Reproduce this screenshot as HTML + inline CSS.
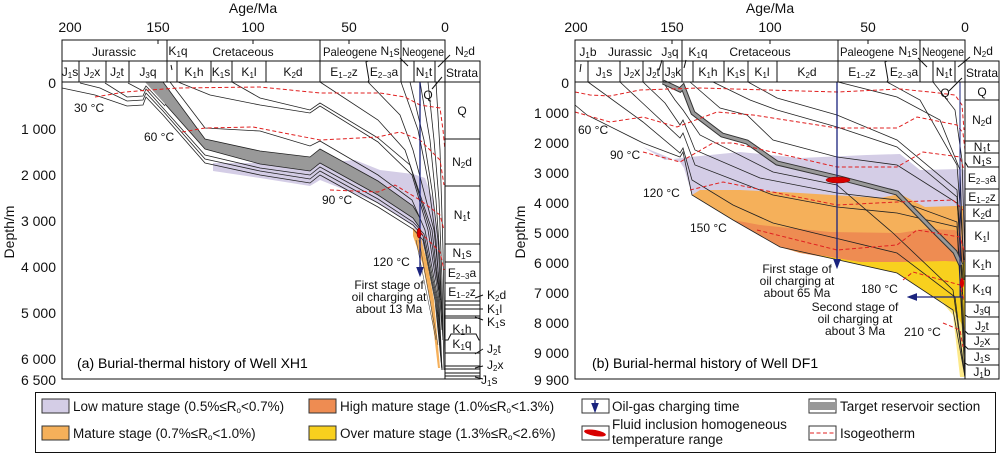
<!DOCTYPE html>
<html><head><meta charset="utf-8"><style>
body{margin:0;background:#fff}
svg{display:block;font-family:"Liberation Sans",Arial,sans-serif}
.t{font-size:12px;fill:#111}
.ax{font-size:14px;fill:#111}
.lg{font-size:13.5px;fill:#111}
.bl{fill:none;stroke:#222;stroke-width:0.8}
.iso{fill:none;stroke:#e02020;stroke-width:1;stroke-dasharray:4,2.5}
.box{fill:none;stroke:#111;stroke-width:1}
</style></head><body>
<svg width="1000" height="454" viewBox="0 0 1000 454" xmlns="http://www.w3.org/2000/svg">
<defs><marker id="ar" markerWidth="8" markerHeight="8" refX="4" refY="4" orient="auto"><path d="M0,1 L8,4 L0,7 Z" fill="#1a237e"/></marker></defs>

<!-- ============ LEFT PANEL ============ -->
<text class="ax" x="253" y="13" text-anchor="middle">Age/Ma</text>
<text class="ax" x="70" y="32" text-anchor="middle">200</text>
<text class="ax" x="158" y="32" text-anchor="middle">150</text>
<text class="ax" x="253" y="32" text-anchor="middle">100</text>
<text class="ax" x="349" y="32" text-anchor="middle">50</text>
<text class="ax" x="445" y="32" text-anchor="middle">0</text>
<text class="ax" x="0" y="0" transform="translate(14,232) rotate(-90)" text-anchor="middle">Depth/m</text>
<g class="ax" text-anchor="end">
<text x="56" y="88">0</text><text x="56" y="134">1 000</text><text x="56" y="180">2 000</text><text x="56" y="226">3 000</text><text x="56" y="272">4 000</text><text x="56" y="318">5 000</text><text x="56" y="364">6 000</text><text x="56" y="385">6 500</text>
</g>

<!-- fills -->
<polygon fill="#d4cde6" points="213,163 260,163 310,170 320,163 355,160 380,170 413,174 425,178 433,200 438,240 441,300 430,262 420,240 413,226 378,203 320,180 310,186 260,178 213,171"/>
<polygon fill="#f5b05a" points="413,228 420,234 427,262 434,300 440,368 438,368 430,300 422,262 413,236"/>
<g stroke="#333" stroke-width="0.5"><line x1="416" y1="240" x2="436" y2="340"/><line x1="419" y1="240" x2="438" y2="345"/></g>
<polygon fill="#999" points="145,82 163,82 205,139 260,151 310,157 320,149 378,181 413,206 420,218 420,228 413,218 378,195 320,163 310,171 260,164 205,149 165,104"/>
<polyline class="bl" points="163,82 205,139 260,151 310,157 320,149 378,181 413,206 420,218"/>
<polyline class="bl" points="165,104 205,149 260,164 310,171 320,163 378,195 413,218 420,228"/>
<polyline class="bl" points="62,88 95,95 127,106 143,105 146,97 163,115 205,163 260,175 310,183 320,175 378,207 413,229 423,240 435,300 442,370"/>
<polyline class="bl" points="80,83 100,88 127,101 143,100 146,93 163,111 205,159 260,171 310,179 320,171 378,203 413,225 423,236 436,300 442,370"/>
<polyline class="bl" points="105,83 127,97 143,96 146,89 163,108 205,155 260,168 310,175 320,167 378,199 413,222 424,234 437,300 442,370"/>
<polyline class="bl" points="128,83 143,91 146,86 165,106"/>
<polyline class="bl" points="170,82 205,128 260,131 310,146 320,141 378,175 412,200 425,230 438,300 442,370"/>
<polyline class="bl" points="178,82 210,95 260,105 310,113 320,106 378,142 412,175 428,230 439,300 442,370"/>
<polyline class="bl" points="232,82 260,98 310,110 320,103 378,138 410,165 430,230 440,300"/>
<polyline class="bl" points="320,82 378,120 405,150 432,230 440,300"/>
<polyline class="bl" points="368,82 400,115 413,150 434,230 441,300"/>
<polyline class="bl" points="401,82 418,130 428,180 436,240 442,330"/>
<polyline class="bl" points="410,82 424,140 432,190 438,240 443,340"/>
<polyline class="bl" points="420,82 430,140 436,200 440,260 443,340"/>
<polyline class="bl" points="428,82 434,140 439,200 442,280 444,370"/>
<polyline class="bl" points="436,82 440,150 443,250 445,370"/>
<polyline class="iso" points="95,97 125,92 150,90 178,88 260,87 320,93 380,93 405,97 420,105 440,108 443,130 445,150"/>
<polyline class="iso" points="182,132 205,128 253,127 320,140 378,137 400,132 420,140 440,160 444,185"/>
<polyline class="iso" points="330,190 378,192 395,185 420,200 440,215 444,230"/>
<polyline class="iso" points="420,232 440,252 444,270"/>
<line x1="420" y1="82" x2="420" y2="272" stroke="#1a237e" stroke-width="1.3" marker-end="url(#ar)"/>
<ellipse cx="419" cy="233" rx="2" ry="5" fill="#d80000" stroke="#600" stroke-width="0.5"/>

<g class="t">
<text x="74" y="112">30 °C</text><text x="144" y="141">60 °C</text><text x="322" y="204">90 °C</text><text x="373" y="266">120 °C</text>
<text x="389" y="289" text-anchor="middle">First stage of</text><text x="389" y="301" text-anchor="middle">oil charging at</text><text x="389" y="313" text-anchor="middle">about 13 Ma</text>
</g>
<text x="77" y="368" style="font-size:14px">(a) Burial-thermal history of Well XH1</text>

<rect class="box" x="62" y="40" width="383" height="339"/>
<line class="box" x1="62" y1="61" x2="480" y2="61"/>
<line class="box" x1="62" y1="82" x2="480" y2="82"/>
<rect class="box" x="445" y="61" width="35" height="318"/>
<g stroke="#111" stroke-width="1">
<line x1="167" y1="40" x2="167" y2="82"/><line x1="320" y1="40" x2="320" y2="82"/><line x1="401" y1="40" x2="401" y2="82"/>
<line x1="158" y1="40" x2="158" y2="44"/><line x1="253" y1="40" x2="253" y2="44"/><line x1="349" y1="40" x2="349" y2="44"/>
<line x1="79" y1="61" x2="79" y2="82"/><line x1="106" y1="61" x2="106" y2="82"/><line x1="129" y1="61" x2="129" y2="82"/>
<line x1="177" y1="61" x2="177" y2="82"/><line x1="211" y1="61" x2="211" y2="82"/><line x1="232" y1="61" x2="232" y2="82"/><line x1="266" y1="61" x2="266" y2="82"/>
<polyline fill="none" points="368,61 366,62 369,80 368,82"/><line x1="414" y1="61" x2="414" y2="82"/><line x1="435" y1="61" x2="435" y2="82"/>
<line x1="171" y1="65" x2="172" y2="70"/><line x1="400" y1="58" x2="408" y2="66"/><line x1="450" y1="55" x2="438" y2="67"/><line x1="432" y1="89" x2="442" y2="77"/>
<line x1="445" y1="139" x2="480" y2="139"/><line x1="445" y1="186" x2="480" y2="186"/><line x1="445" y1="244" x2="480" y2="244"/><line x1="445" y1="262" x2="480" y2="262"/><line x1="445" y1="283" x2="480" y2="283"/><line x1="445" y1="301" x2="480" y2="301"/>
<line x1="445" y1="305" x2="480" y2="305"/><line x1="445" y1="309" x2="480" y2="309"/><line x1="445" y1="316" x2="480" y2="316"/><line x1="445" y1="318" x2="480" y2="318"/>
<polyline fill="none" points="445,340 448,340 451,334 476,334 479,340 480,340"/><line x1="445" y1="353" x2="480" y2="353"/>
<line x1="445" y1="366" x2="480" y2="366"/><line x1="445" y1="369" x2="480" y2="369"/><line x1="445" y1="373" x2="480" y2="373"/><line x1="445" y1="376" x2="480" y2="376"/>
<line x1="475" y1="298" x2="483" y2="295"/><line x1="475" y1="309" x2="483" y2="309"/><line x1="475" y1="317" x2="483" y2="320"/><line x1="475" y1="354" x2="483" y2="349"/><line x1="475" y1="368" x2="483" y2="366"/><line x1="475" y1="377" x2="483" y2="379"/>
</g>
<g class="t" text-anchor="middle">
<text x="114" y="56">Jurassic</text><text x="243" y="56">Cretaceous</text><text x="323" y="56" text-anchor="start" textLength="54" lengthAdjust="spacingAndGlyphs">Paleogene</text><text x="423" y="56" textLength="42" lengthAdjust="spacingAndGlyphs">Neogene</text>
<text x="178" y="55">K<tspan font-size="8" dy="2">1</tspan><tspan dy="-2">q</tspan></text>
<text x="390" y="55">N<tspan font-size="8" dy="2">1</tspan><tspan dy="-2">s</tspan></text>
<text x="465" y="55">N<tspan font-size="8" dy="2">2</tspan><tspan dy="-2">d</tspan></text>
<text x="70" y="76">J<tspan font-size="8" dy="2">1</tspan><tspan dy="-2">s</tspan></text>
<text x="92" y="76">J<tspan font-size="8" dy="2">2</tspan><tspan dy="-2">x</tspan></text>
<text x="117" y="76">J<tspan font-size="8" dy="2">2</tspan><tspan dy="-2">t</tspan></text>
<text x="148" y="76">J<tspan font-size="8" dy="2">3</tspan><tspan dy="-2">q</tspan></text>
<text x="194" y="76">K<tspan font-size="8" dy="2">1</tspan><tspan dy="-2">h</tspan></text>
<text x="221" y="76">K<tspan font-size="8" dy="2">1</tspan><tspan dy="-2">s</tspan></text>
<text x="249" y="76">K<tspan font-size="8" dy="2">1</tspan><tspan dy="-2">l</tspan></text>
<text x="293" y="76">K<tspan font-size="8" dy="2">2</tspan><tspan dy="-2">d</tspan></text>
<text x="344" y="76">E<tspan font-size="8" dy="2">1−2</tspan><tspan dy="-2">z</tspan></text>
<text x="384" y="76">E<tspan font-size="8" dy="2">2−3</tspan><tspan dy="-2">a</tspan></text>
<text x="424" y="76">N<tspan font-size="8" dy="2">1</tspan><tspan dy="-2">t</tspan></text>
<text x="462" y="77">Strata</text>
<text x="428" y="99">Q</text>
<text x="462" y="115">Q</text>
<text x="462" y="166">N<tspan font-size="8" dy="2">2</tspan><tspan dy="-2">d</tspan></text>
<text x="462" y="219">N<tspan font-size="8" dy="2">1</tspan><tspan dy="-2">t</tspan></text>
<text x="462" y="257">N<tspan font-size="8" dy="2">1</tspan><tspan dy="-2">s</tspan></text>
<text x="462" y="277">E<tspan font-size="8" dy="2">2−3</tspan><tspan dy="-2">a</tspan></text>
<text x="462" y="296">E<tspan font-size="8" dy="2">1−2</tspan><tspan dy="-2">z</tspan></text>
<text x="462" y="333">K<tspan font-size="8" dy="2">1</tspan><tspan dy="-2">h</tspan></text>
<text x="462" y="348">K<tspan font-size="8" dy="2">1</tspan><tspan dy="-2">q</tspan></text>
</g>
<g class="t">
<text x="487" y="299">K<tspan font-size="8" dy="2">2</tspan><tspan dy="-2">d</tspan></text>
<text x="487" y="313">K<tspan font-size="8" dy="2">1</tspan><tspan dy="-2">l</tspan></text>
<text x="487" y="326">K<tspan font-size="8" dy="2">1</tspan><tspan dy="-2">s</tspan></text>
<text x="487" y="353">J<tspan font-size="8" dy="2">2</tspan><tspan dy="-2">t</tspan></text>
<text x="487" y="369">J<tspan font-size="8" dy="2">2</tspan><tspan dy="-2">x</tspan></text>
<text x="481" y="384">J<tspan font-size="8" dy="2">1</tspan><tspan dy="-2">s</tspan></text>
</g>

<!-- ============ RIGHT PANEL ============ -->
<text class="ax" x="770" y="13" text-anchor="middle">Age/Ma</text>
<text class="ax" x="576" y="32" text-anchor="middle">200</text>
<text class="ax" x="672" y="32" text-anchor="middle">150</text>
<text class="ax" x="770" y="32" text-anchor="middle">100</text>
<text class="ax" x="868" y="32" text-anchor="middle">50</text>
<text class="ax" x="965" y="32" text-anchor="middle">0</text>
<text class="ax" x="0" y="0" transform="translate(525,232) rotate(-90)" text-anchor="middle">Depth/m</text>
<g class="ax" text-anchor="end">
<text x="569" y="88">0</text><text x="569" y="118">1 000</text><text x="569" y="148">2 000</text><text x="569" y="178">3 000</text><text x="569" y="208">4 000</text><text x="569" y="238">5 000</text><text x="569" y="268">6 000</text><text x="569" y="298">7 000</text><text x="569" y="328">8 000</text><text x="569" y="358">9 000</text><text x="569" y="385">9 900</text>
</g>

<polygon fill="#d4cde6" points="643,147 665,160 690,157 740,152 800,158 867,155 900,154 920,170 960,169 965,170 965,377 953,310 897,273 780,247 733,220 692,195 684,168 680,162"/>
<polygon fill="#f5b05a" points="692,195 700,190 740,190 800,193 880,198 900,194 925,207 955,206 963,206 965,377 953,310 897,273 780,247 733,220"/>
<polygon fill="#ee8c52" points="733,220 760,225 830,232 900,233 925,229 955,230 963,238 965,264 945,263 905,262 860,263 800,253 780,247"/>
<polygon fill="#f8d01e" points="780,247 800,252 860,262 905,262 945,261 965,262 965,377 953,310 897,273"/>
<polygon fill="#fce98a" points="940,300 955,312 965,330 965,377 960,377 953,315"/>
<polyline class="bl" points="575,105 587,115 643,143 680,157 683,152 692,195 733,220 780,247 897,273 953,310 965,377"/>
<polyline class="bl" points="588,82 643,122 680,153 683,148 692,180 733,205 773,223 897,253 955,297 965,377"/>
<polyline class="bl" points="620,82 650,110 680,138 683,133 695,165 773,195 837,207 897,213 957,227 965,377"/>
<polyline class="bl" points="643,82 665,103 680,125 683,120 695,150 760,178 837,193 897,200 957,222 965,360"/>
<polyline class="bl" points="663,82 675,100 683,110 700,135 773,172 837,185 893,233 953,290 965,377"/>
<polyline class="bl" points="690,82 720,108 747,115 773,140 837,157 897,165 957,203 960,230 965,360"/>
<polyline class="bl" points="713,82 750,100 777,110 837,127 897,147 957,197 963,300"/>
<polyline class="bl" points="748,82 777,98 837,115 897,140 957,190 963,280"/>
<polyline class="bl" points="838,82 897,97 940,120 960,170 964,280"/>
<polyline class="bl" points="887,82 920,100 957,165 964,260"/>
<polyline class="bl" points="933,82 955,110 962,160 965,260"/>
<polyline fill="none" stroke="#333" stroke-width="5" points="663,82 680,90 683,87 693,113 722,135 747,142 777,163 840,178 897,193 933,230 955,252 961,265"/>
<polyline fill="none" stroke="#999" stroke-width="3" points="663,82 680,90 683,87 693,113 722,135 747,142 777,163 840,178 897,193 933,230 955,252 961,265"/>
<polyline class="iso" points="575,92 590,95 610,96 640,90 700,88 837,92 900,89 930,92 955,95 962,105 964,130"/>
<polyline class="iso" points="575,112 610,122 643,117 677,127 717,112 753,115 837,128 897,128 917,117 957,125 963,133 965,150"/>
<polyline class="iso" points="643,152 680,162 713,143 733,143 837,167 897,167 923,152 960,157 964,170"/>
<polyline class="iso" points="690,190 723,182 837,205 897,202 953,200 963,210"/>
<polyline class="iso" points="757,230 837,250 897,245 917,230 960,237 964,250"/>
<polyline class="iso" points="903,280 913,272 960,285 964,300"/>
<polyline class="iso" points="943,323 960,330 963,347"/>
<line x1="837" y1="82" x2="837" y2="264" stroke="#1a237e" stroke-width="1.3" marker-end="url(#ar)"/>
<line x1="960" y1="82" x2="960" y2="297" stroke="#1a237e" stroke-width="1"/>
<line x1="963" y1="297" x2="912" y2="297" stroke="#1a237e" stroke-width="1.3" marker-end="url(#ar)"/>
<ellipse cx="838" cy="180" rx="12" ry="3" fill="#d80000" stroke="#700" stroke-width="0.5"/>
<ellipse cx="962" cy="283" rx="2" ry="5" fill="#d80000"/>

<g class="t">
<text x="578" y="134">60 °C</text><text x="610" y="159">90 °C</text><text x="643" y="197">120 °C</text><text x="690" y="232">150 °C</text>
<text x="797" y="273" text-anchor="middle">First stage of</text><text x="797" y="285" text-anchor="middle">oil charging at</text><text x="797" y="297" text-anchor="middle">about 65 Ma</text>
<text x="861" y="293">180 °C</text>
<text x="855" y="311" text-anchor="middle">Second stage of</text><text x="855" y="323" text-anchor="middle">oil charging at</text><text x="855" y="335" text-anchor="middle">about 3 Ma</text>
<text x="904" y="336">210 °C</text>
</g>
<text x="592" y="368" style="font-size:14px">(b) Burial-hermal history of Well DF1</text>

<rect class="box" x="575" y="40" width="390" height="339"/>
<line class="box" x1="575" y1="61" x2="999" y2="61"/>
<line class="box" x1="575" y1="82" x2="999" y2="82"/>
<rect class="box" x="965" y="61" width="34" height="318"/>
<g stroke="#111" stroke-width="1">
<line x1="682" y1="40" x2="682" y2="82"/><line x1="838" y1="40" x2="838" y2="82"/><line x1="920" y1="40" x2="920" y2="82"/>
<line x1="672" y1="40" x2="672" y2="44"/><line x1="770" y1="40" x2="770" y2="44"/><line x1="868" y1="40" x2="868" y2="44"/>
<line x1="588" y1="61" x2="588" y2="82"/><line x1="620" y1="61" x2="620" y2="82"/><line x1="643" y1="61" x2="643" y2="82"/><line x1="663" y1="61" x2="663" y2="82"/>
<line x1="693" y1="61" x2="693" y2="82"/><line x1="724" y1="61" x2="724" y2="82"/><line x1="748" y1="61" x2="748" y2="82"/><line x1="777" y1="61" x2="777" y2="82"/>
<polyline fill="none" points="887,61 885,62 888,80 887,82"/><line x1="933" y1="61" x2="933" y2="82"/><line x1="955" y1="61" x2="955" y2="82"/>
<line x1="581" y1="64" x2="580" y2="72"/><line x1="662" y1="60" x2="659" y2="70"/><line x1="686" y1="60" x2="684" y2="68"/><line x1="918" y1="58" x2="927" y2="67"/><line x1="970" y1="57" x2="958" y2="67"/><line x1="949" y1="91" x2="962" y2="78"/>
<line x1="965" y1="100" x2="999" y2="100"/><line x1="965" y1="141" x2="999" y2="141"/><line x1="965" y1="153" x2="999" y2="153"/>
<polyline fill="none" points="965,162 968,167 999,167"/><line x1="965" y1="189" x2="999" y2="189"/><line x1="965" y1="205" x2="999" y2="205"/><line x1="965" y1="221" x2="999" y2="221"/>
<line x1="965" y1="251" x2="999" y2="251"/><line x1="965" y1="276" x2="999" y2="276"/><line x1="965" y1="302" x2="999" y2="302"/>
<polyline fill="none" points="965,315 968,317 999,317"/><polyline fill="none" points="965,331 968,334 999,334"/><polyline fill="none" points="965,346 968,349 999,349"/><polyline fill="none" points="965,363 968,365 999,365"/>
</g>
<g class="t" text-anchor="middle">
<text x="588" y="56">J<tspan font-size="8" dy="2">1</tspan><tspan dy="-2">b</tspan></text>
<text x="630" y="56">Jurassic</text>
<text x="670" y="56">J<tspan font-size="8" dy="2">3</tspan><tspan dy="-2">q</tspan></text>
<text x="698" y="56">K<tspan font-size="8" dy="2">1</tspan><tspan dy="-2">q</tspan></text>
<text x="760" y="56">Cretaceous</text><text x="840" y="56" text-anchor="start" textLength="54" lengthAdjust="spacingAndGlyphs">Paleogene</text>
<text x="908" y="55">N<tspan font-size="8" dy="2">1</tspan><tspan dy="-2">s</tspan></text>
<text x="943" y="56" textLength="42" lengthAdjust="spacingAndGlyphs">Neogene</text>
<text x="983" y="55">N<tspan font-size="8" dy="2">2</tspan><tspan dy="-2">d</tspan></text>
<text x="604" y="76">J<tspan font-size="8" dy="2">1</tspan><tspan dy="-2">s</tspan></text>
<text x="632" y="76">J<tspan font-size="8" dy="2">2</tspan><tspan dy="-2">x</tspan></text>
<text x="653" y="76">J<tspan font-size="8" dy="2">2</tspan><tspan dy="-2">t</tspan></text>
<text x="673" y="76">J<tspan font-size="8" dy="2">3</tspan><tspan dy="-2">k</tspan></text>
<text x="708" y="76">K<tspan font-size="8" dy="2">1</tspan><tspan dy="-2">h</tspan></text>
<text x="736" y="76">K<tspan font-size="8" dy="2">1</tspan><tspan dy="-2">s</tspan></text>
<text x="762" y="76">K<tspan font-size="8" dy="2">1</tspan><tspan dy="-2">l</tspan></text>
<text x="807" y="76">K<tspan font-size="8" dy="2">2</tspan><tspan dy="-2">d</tspan></text>
<text x="862" y="76">E<tspan font-size="8" dy="2">1−2</tspan><tspan dy="-2">z</tspan></text>
<text x="904" y="76">E<tspan font-size="8" dy="2">2−3</tspan><tspan dy="-2">a</tspan></text>
<text x="944" y="76">N<tspan font-size="8" dy="2">1</tspan><tspan dy="-2">t</tspan></text>
<text x="982" y="77">Strata</text>
<text x="945" y="97">Q</text>
<text x="982" y="96">Q</text>
<text x="982" y="124">N<tspan font-size="8" dy="2">2</tspan><tspan dy="-2">d</tspan></text>
<text x="982" y="151">N<tspan font-size="8" dy="2">1</tspan><tspan dy="-2">t</tspan></text>
<text x="982" y="164">N<tspan font-size="8" dy="2">1</tspan><tspan dy="-2">s</tspan></text>
<text x="982" y="182">E<tspan font-size="8" dy="2">2−3</tspan><tspan dy="-2">a</tspan></text>
<text x="982" y="201">E<tspan font-size="8" dy="2">1−2</tspan><tspan dy="-2">z</tspan></text>
<text x="982" y="217">K<tspan font-size="8" dy="2">2</tspan><tspan dy="-2">d</tspan></text>
<text x="982" y="240">K<tspan font-size="8" dy="2">1</tspan><tspan dy="-2">l</tspan></text>
<text x="982" y="268">K<tspan font-size="8" dy="2">1</tspan><tspan dy="-2">h</tspan></text>
<text x="982" y="293">K<tspan font-size="8" dy="2">1</tspan><tspan dy="-2">q</tspan></text>
<text x="982" y="313">J<tspan font-size="8" dy="2">3</tspan><tspan dy="-2">q</tspan></text>
<text x="982" y="330">J<tspan font-size="8" dy="2">2</tspan><tspan dy="-2">t</tspan></text>
<text x="982" y="345">J<tspan font-size="8" dy="2">2</tspan><tspan dy="-2">x</tspan></text>
<text x="982" y="361">J<tspan font-size="8" dy="2">1</tspan><tspan dy="-2">s</tspan></text>
<text x="982" y="376">J<tspan font-size="8" dy="2">1</tspan><tspan dy="-2">b</tspan></text>
</g>

<!-- ============ LEGEND ============ -->
<rect x="35.5" y="392.5" width="960" height="60" fill="#fff" stroke="#111" stroke-width="1"/>
<g stroke="#333" stroke-width="1">
<rect x="42" y="399" width="27" height="14" fill="#d4cde6"/>
<rect x="42" y="426" width="27" height="14" fill="#f5b05a"/>
<rect x="309" y="399" width="27" height="14" fill="#ee8c52"/>
<rect x="309" y="426" width="27" height="14" fill="#f8d01e"/>
<rect x="582" y="399" width="27" height="14" fill="#fff"/>
<rect x="582" y="426" width="27" height="14" fill="#fff"/>
<rect x="809" y="399" width="27" height="14" fill="#fff"/>
<rect x="809" y="426" width="27" height="14" fill="#fff"/>
</g>
<line x1="595" y1="400" x2="595" y2="408" stroke="#1a237e" stroke-width="1.3" marker-end="url(#ar)"/>
<ellipse cx="595" cy="433" rx="11" ry="3" fill="#d80000" transform="rotate(10 595 433)"/>
<rect x="810" y="404" width="25" height="4" fill="#999"/>
<line x1="810" y1="403" x2="835" y2="403" stroke="#333"/><line x1="810" y1="409" x2="835" y2="409" stroke="#333"/>
<line x1="810" y1="433" x2="835" y2="433" stroke="#e02020" stroke-dasharray="4,2.5"/>
<g class="lg">
<text x="73" y="411">Low mature stage (0.5%≤R<tspan font-size="8" dy="2">o</tspan><tspan dy="-2">&lt;0.7%)</tspan></text>
<text x="73" y="438">Mature stage (0.7%≤R<tspan font-size="8" dy="2">o</tspan><tspan dy="-2">&lt;1.0%)</tspan></text>
<text x="340" y="411">High mature stage (1.0%≤R<tspan font-size="8" dy="2">o</tspan><tspan dy="-2">&lt;1.3%)</tspan></text>
<text x="340" y="438">Over mature stage (1.3%≤R<tspan font-size="8" dy="2">o</tspan><tspan dy="-2">&lt;2.6%)</tspan></text>
<text x="612" y="411">Oil-gas charging time</text>
<text x="612" y="429">Fluid inclusion homogeneous</text>
<text x="612" y="444">temperature range</text>
<text x="840" y="411">Target reservoir section</text>
<text x="840" y="438">Isogeotherm</text>
</g>
</svg>
</body></html>
